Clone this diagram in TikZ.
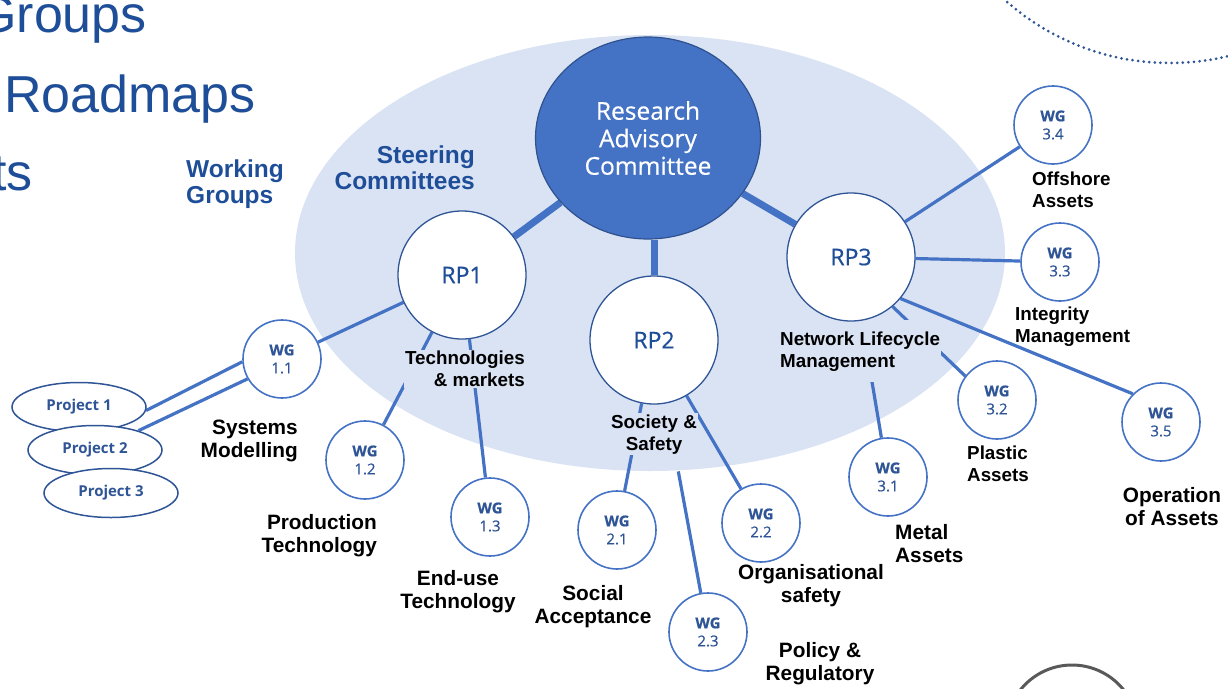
\documentclass[tikz,border=0pt]{standalone}
\usepackage{fontspec}
\setmainfont{Liberation Sans}
\newfontfamily\osans{Open Sans}
\newfontfamily\osansmid{Open Sans}[FakeBold=0.5]
\usetikzlibrary{shapes.geometric}

\definecolor{bgblue}{HTML}{DAE3F3}
\definecolor{linkblue}{HTML}{4472C4}
\definecolor{navy}{HTML}{1F4E99}
\definecolor{wgblue}{HTML}{2F5597}
\definecolor{racedge}{HTML}{2F528F}
\definecolor{rimgray}{HTML}{595959}

% drawing layers: area, connectors, label patches, nodes
\pgfdeclarelayer{area}
\pgfdeclarelayer{links}
\pgfdeclarelayer{patches}
\pgfsetlayers{area,links,patches,main}

\tikzset{
  racnode/.style={ellipse, draw=racedge, line width=1.2pt, fill=linkblue,
    minimum width=225pt, minimum height=202pt, inner sep=0pt, text=white,
    align=center, font=\osansmid\fontsize{24.5}{27.5}\selectfont},
  rpnode/.style={circle, draw=wgblue, line width=1.3pt, fill=white,
    minimum size=128pt, inner sep=0pt, text=navy,
    font=\osansmid\fontsize{23}{26}\selectfont},
  wgnode/.style={circle, draw=linkblue, line width=1.6pt, fill=white,
    minimum size=78pt, inner sep=0pt, text=wgblue, align=center,
    font=\osansmid\fontsize{15}{18}\selectfont},
  projnode/.style={ellipse, draw=wgblue, line width=1.5pt, fill=white,
    minimum width=134pt, minimum height=49pt, inner sep=0pt, text=wgblue,
    font=\osans\bfseries\fontsize{15}{18}\selectfont},
  link/.style={draw=linkblue, line width=3.2pt},
  trunk/.style={draw=linkblue, line width=7pt},
  biglabel/.style={inner sep=0pt, align=center,
    font=\bfseries\fontsize{20.8}{23}\selectfont},
  smalllabel/.style={inner sep=0pt, align=center,
    font=\bfseries\fontsize{18.8}{22}\selectfont},
  innerlabel/.style={smalllabel, inner sep=1pt, fill=bgblue},
  bluelabel/.style={inner sep=0pt, text=navy,
    font=\bfseries\fontsize{24.5}{26}\selectfont},
  toptext/.style={inner sep=0pt, text=navy, font=\fontsize{52}{60}\selectfont},
}

\begin{document}
\begin{tikzpicture}[x=1pt,y=-1pt]
\clip (0,0) rectangle (1228,688);

% steering committee area
\begin{pgfonlayer}{area}
\fill[bgblue] (650,253) ellipse [x radius=355pt, y radius=218pt];
\end{pgfonlayer}

% dotted arc and grey ring at the page edges
\draw[wgblue, line width=3pt, line cap=round, dash pattern=on 0pt off 5.6pt]
  (1170,-185) circle [radius=248pt];
\draw[rimgray, line width=3pt] (1072,731) circle [radius=66pt];

% slide text at the left
\node[toptext, anchor=base east] (tgroups) at (147,32) {Groups};
\node[toptext, anchor=base east] (troad) at (256,112) {Roadmaps};
\node[toptext, anchor=base east] (tts) at (33,190) {ts};

% committees
\node[racnode] (rac) at (648,138) {Research\\Advisory\\Committee};
\node[rpnode] (rp1) at (462,275) {RP1};
\node[rpnode] (rp2) at (654,340) {RP2};
\node[rpnode] (rp3) at (851,257) {RP3};

% working groups
\node[wgnode] (wg11) at (282,359) {\textbf{WG}\\1.1};
\node[wgnode] (wg12) at (365,460) {\textbf{WG}\\1.2};
\node[wgnode] (wg13) at (490,517) {\textbf{WG}\\1.3};
\node[wgnode] (wg21) at (617,530) {\textbf{WG}\\2.1};
\node[wgnode] (wg22) at (761,523) {\textbf{WG}\\2.2};
\node[wgnode] (wg23) at (708,632) {\textbf{WG}\\2.3};
\node[wgnode] (wg31) at (888,477) {\textbf{WG}\\3.1};
\node[wgnode] (wg32) at (997,400) {\textbf{WG}\\3.2};
\node[wgnode] (wg33) at (1060,262) {\textbf{WG}\\3.3};
\node[wgnode] (wg34) at (1053,125) {\textbf{WG}\\3.4};
\node[wgnode] (wg35) at (1161,422) {\textbf{WG}\\3.5};

% projects
\node[projnode] (p1) at (79,407) {Project 1};
\node[projnode] (p2) at (95,450) {Project 2};
\node[projnode] (p3) at (111,493) {Project 3};

% connectors
\begin{pgfonlayer}{links}
\draw[trunk] (rac) -- (rp1);
\draw[trunk] (rp2) -- (rp2 |- rac.south);
\draw[trunk] (rac) -- (rp3);
\draw[link] (rp1) -- (wg11);
\draw[link] (rp1) -- (wg12);
\draw[link] (rp1) -- (wg13);
\draw[link] (rp2) -- (wg21);
\draw[link] (rp2) -- (wg22);
\draw[link, shorten <=69pt] (rp2) -- (wg23);
\draw[link] (rp3) -- (wg34);
\draw[link] (rp3) -- (wg33);
\draw[link] (rp3.310) -- (wg32.143);
\draw[link] (rp3.320) -- (wg35.135);
\draw[link] (rp3) -- (wg31);
\draw[link] (p1.357) -- (wg11.184);
\draw[link] (p2.24) -- (wg11.210);
\end{pgfonlayer}

% headings
\node[bluelabel, anchor=west, align=left] (lwork) at (186,183.8) {Working\\Groups};
\node[bluelabel, anchor=east, align=right] (lsteer) at (475,167.7) {Steering\\Committees};

% programme labels inside the area, on patches that break the connectors
\begin{pgfonlayer}{patches}
\begin{scope}
\clip (650,253) ellipse [x radius=355pt, y radius=218pt];
\node[innerlabel, anchor=east, align=right] (ltech) at (526,369.2) {Technologies\\\& markets};
\node[innerlabel] (lsocsaf) at (654,434.2) {Society \&\\Safety};
\node[innerlabel, anchor=west, align=left, inner ysep=11pt] (lnet) at (779,351.2) {Network Lifecycle\\Management};
\end{scope}
\end{pgfonlayer}

% working group labels
\node[biglabel, anchor=east, align=right] (lsys) at (298,441.2) {Systems\\Modelling};
\node[biglabel, anchor=east, align=right] (lprod) at (377,535.2) {Production\\Technology};
\node[biglabel] (lend) at (458,591.7) {End-use\\Technology};
\node[biglabel] (lsoc) at (593,606.7) {Social\\Acceptance};
\node[biglabel] (lorg) at (811,585.2) {Organisational\\safety};
\node[biglabel] (lpol) at (820,663.2) {Policy \&\\Regulatory};
\node[biglabel, anchor=west, align=left] (lmet) at (895,543.5) {Metal\\Assets};
\node[biglabel] (lop) at (1172,507) {Operation\\of Assets};
\node[smalllabel, anchor=west, align=left] (loff) at (1032,189.7) {Offshore\\Assets};
\node[smalllabel, anchor=west, align=left] (lint) at (1015,326.7) {Integrity\\Management};
\node[smalllabel, anchor=west, align=left] (lpla) at (967,463.7) {Plastic\\Assets};
\end{tikzpicture}
\end{document}
